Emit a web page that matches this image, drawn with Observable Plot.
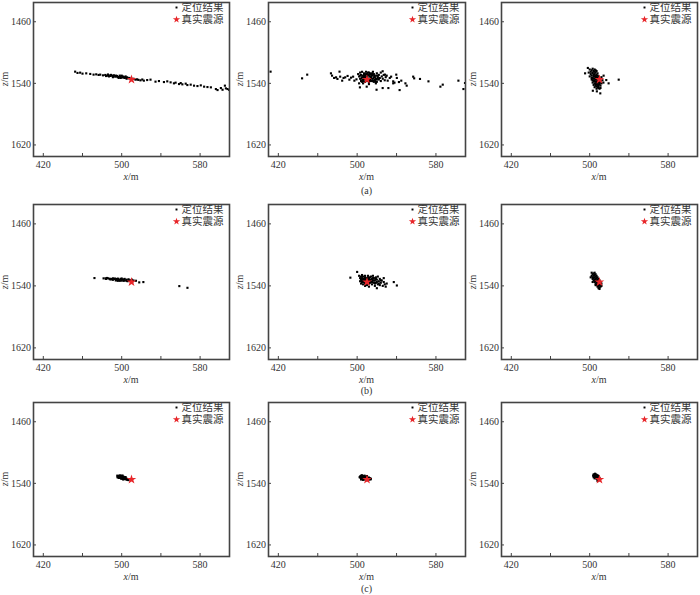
<!DOCTYPE html>
<html><head><meta charset="utf-8">
<script src="https://cdn.jsdelivr.net/npm/d3@7"></script>
<script src="https://cdn.jsdelivr.net/npm/@observablehq/plot@0.6"></script>
<style>
body{margin:0;background:#fff;}
#fig{position:relative;width:700px;height:595px;font-family:"Liberation Serif","Times New Roman","DejaVu Serif","Noto Sans CJK SC",serif;color:#333;overflow:hidden;}
#fig svg, #fig svg text{font-family:"Liberation Serif","Times New Roman","DejaVu Serif","Noto Sans CJK SC",serif !important;}
.panel{position:absolute;}
.lab{position:absolute;font-size:10px;line-height:10px;white-space:nowrap;transform:translate(-50%,-50%);}
.zlab{transform:translate(-50%,-50%) rotate(-90deg);}
</style></head><body><div id="fig"></div>
<script>
// ---- data ----
const xTicks = [420, 500, 580];
const xMinor = [420, 460, 500, 540, 580];
const zTicks = [1460, 1540, 1620];
const xDomain = [410, 610];
const zDomain = [1435, 1635];
const legendLabels = ["定位结果", "真实震源"];
const captions = ["(a)", "(b)", "(c)"];
const trueX = [510];
const trueZ = [1535];

const a1X = [452.5,454.9,457.6,460,463.8,467.9,471.3,474,476.4,478.1,480.9,483.2,485,486.7,488.4,490.1,491.8,493.5,495.2,496.9,498.6,500.3,502.1,503.8,505.5,507.2,510.6,514,515.7,519.1,522.6,526,529.4,534.5,538,543.1,546.5,549.9,553.3,555,558.5,560.2,561.9,565.3,567,570.4,573.8,577.3,580.7,584.1,587.5,591,596.1,597.8,601.2,602.9,605.3,606.3,608,609.7,487,489,491,494,496,498,499,501,503,504,506,492,495,497,500,502,505,508,484,486,512,517,521];
const a1Z = [1524.8,1526.5,1526.1,1527.4,1527,1527.8,1528.7,1528.3,1529.1,1528.7,1529.6,1529.1,1530,1529.6,1530.4,1530,1530.9,1531.3,1530.4,1531.7,1531.3,1532.2,1531.7,1532.6,1532.2,1533.5,1534.3,1535.2,1534.8,1536.1,1536.5,1535.7,1535.2,1537.8,1537,1538.3,1537.4,1538.7,1540,1539.1,1540.9,1539.6,1541.3,1540.4,1542.2,1541.7,1543,1543.5,1542.6,1544.3,1544.8,1545.2,1547.4,1548.7,1546.1,1548.3,1543,1546.5,1547.4,1548.7,1531,1529,1532,1530,1532,1530,1533,1531,1533,1531,1533,1529.5,1531,1533,1530,1532.5,1534,1533,1530.5,1528.5,1534,1535.5,1535];

const a2X = [412.1,444.1,449.3,473.4,474.5,476.6,478.6,480,482.1,482.8,484.8,486.2,487.9,490.3,492.1,493.8,495.9,497.2,499.3,525.9,528.3,531,533.1,534.5,536.6,537.9,539.7,540.3,542.4,543.1,544.8,549,550.3,556.9,557.9,563.8,572.4,584.5,586.9,602.8,607.9,609.5,502.8,509.7,519.7,525.9,531.7,536.6,
 501,502,503,503,504,504,505,505,506,506,507,507,508,508,509,509,510,510,511,511,512,512,513,513,514,514,515,515,516,516,517,517,518,518,519,520,520,521,522,522,523,524,524,525,526,527,528,529,530,502,506,512,519,
 504,505,507,508,509,510,511,512,513,514,515,516,517,518,519,520,521,503,506,509,511,513,507,510,515,516,518,520,512];
const a2Z = [1524.8,1533.5,1528.7,1527,1530,1533,1532.2,1534.3,1524.8,1531.3,1536.5,1533,1532.2,1530.4,1535.2,1532.6,1531.3,1536.5,1534.8,1524.3,1528.7,1536.5,1533,1531.3,1537.4,1539.1,1528.7,1533,1538.3,1548.7,1536.5,1540,1543,1531.3,1533.5,1534.3,1537.4,1544.3,1541.7,1536.5,1547.4,1539.6,1545.2,1544.3,1548.3,1546.1,1546.1,1540,
 1528,1531,1534,1526,1529,1537,1532,1525,1535,1530,1527,1533,1538,1530,1525,1532,1528,1536,1530,1534,1526,1539,1531,1535,1528,1533,1537,1530,1525,1534,1532,1528,1536,1530,1534,1527,1538,1531,1535,1529,1533,1537,1526,1531,1534,1529,1536,1532,1530,1540,1540,1541,1540,
 1534,1538,1529,1535,1528,1533,1537,1529,1537,1531,1534,1529,1538,1532,1538,1530,1533,1530,1537,1537,1526,1527,1531,1531,1527,1537,1535,1535,1534];

const a3X = [495.3,498.1,519.3,516.9,510.8,529.6,503.2,507.3,514.2,
 500,501,502,503,501,502,503,504,505,502,503,504,505,506,507,503,504,505,506,507,508,509,504,505,506,507,508,509,510,505,506,507,508,509,510,511,512,507,508,509,510,511,506,508,500,499,512,513,514,511,
 503,504,505,506,507,508,509,510,504,505,506,507,508,509,510,503,502,506,507,505];
const a3Z = [1527,1520,1540,1535.7,1553,1535.2,1549.6,1550.4,1530,
 1522,1525,1523,1521,1528,1530,1527,1524,1522,1533,1536,1531,1528,1526,1524,1539,1534,1537,1532,1529,1527,1531,1542,1540,1538,1535,1533,1536,1538,1545,1543,1541,1539,1542,1534,1537,1540,1547,1545,1544,1541,1543,1530,1530,1531,1526,1532,1536,1539,1546,
 1533,1529,1534,1535,1538,1536,1539,1540,1537,1525,1523,1544,1542,1546,1547,1526,1535,1541,1532,1531];

const b1X = [472.2,481.5,483.6,486,487.7,489.4,491.1,492.9,494.6,496.3,498,499.7,501.4,503.2,504.9,506.6,508.3,510.4,514.5,517.9,522.1,558.8,567.1,484,488,490,493,495,497,499,500,502,503,505,507,509,511,500,498,494,506,512,485,491,496];
const b1Z = [1529.9,1530.3,1530.3,1530.3,1530.7,1531.6,1530.3,1531.2,1532,1530.7,1532,1532.9,1531.6,1532.9,1532,1532.9,1532.9,1532,1533.4,1535.5,1535.1,1540.3,1542.5,1531,1531.5,1531,1530.5,1531,1532.5,1531,1533,1533.5,1531,1533.5,1531.5,1533.5,1534,1530.5,1533.5,1533,1534,1533,1529.8,1532.2,1533.5];

const b2X = [493.1,500,537.2,540.3,
 502,503,503,504,504,504,505,505,505,506,506,506,507,507,508,508,508,509,509,510,510,511,511,512,512,513,513,514,514,515,515,516,516,517,517,518,518,519,519,520,521,521,522,523,523,524,525,526,527,528,529,530,520,512,508,527,
 506,507,509,510,511,512,513,514,515,516,517,518,519,520,522,524,505,508];
const b2Z = [1529.4,1522,1535.1,1539.5,
 1527,1530,1534,1528,1532,1537,1526,1530,1535,1528,1533,1538,1531,1535,1527,1529,1537,1532,1534,1530,1539,1527,1535,1531,1537,1529,1533,1535,1528,1531,1538,1533,1527,1536,1530,1533,1540,1529,1536,1532,1538,1528,1534,1531,1539,1536,1533,1540,1535,1538,1541,1537,1543,1541,1540,1530,
 1531,1533,1536,1532,1529,1533,1536,1532,1535,1530,1533,1537,1531,1535,1537,1533,1533,1531];

const b3X = [502,503,504,505,502,503,504,505,506,503,504,505,506,507,504,505,506,507,508,505,506,507,508,509,506,507,508,509,510,507,508,509,510,511,508,509,510,511,509,510,511,510,512,501,512,503,506];
const b3Z = [1523,1525,1524,1523,1527,1529,1527,1526,1525,1531,1530,1529,1528,1527,1533,1532,1531,1530,1529,1535,1534,1533,1532,1531,1537,1536,1535,1534,1533,1539,1538,1537,1536,1535,1541,1540,1539,1538,1543,1542,1541,1544,1540,1529,1537,1535,1539];

const c1X = [495.5,496,496.5,497,497.5,498,498,498.5,499,499,499.5,500,500,500.5,501,501,501.5,502,502,502.5,503,503,503.5,504,504.5,505,505.5,506,506.5,507,504,497,499.5,495.8,501.5,500.8,498.5];
const c1Z = [1530,1531.5,1530.5,1532,1530,1531,1533,1531.8,1530.2,1532.5,1531,1533.5,1530.5,1532,1531,1534,1532.8,1531.5,1533.8,1532.5,1534.5,1533,1531.8,1533.8,1534.8,1534,1535,1535.5,1534.5,1535.8,1532,1533,1534,1532.2,1535,1529.8,1529.8];

const c2X = [503,503.5,504,504,504.5,505,505,505.5,506,506,506.5,507,507,507.5,508,508,508.5,509,509,509.5,510,510.5,511,511.5,512,512.5,513,513.5,514,506,504,510,502.5];
const c2Z = [1531,1533,1530,1532.5,1534,1531,1529.5,1533,1530.5,1532,1534.5,1531,1533.5,1530,1532,1535,1533,1531,1534,1536,1532,1534.5,1533,1535.5,1532.5,1534,1533.5,1535,1534,1535.5,1535,1530.5,1532];

const c3X = [504,504.5,505,505,505.5,506,506,506,506.5,507,507,507,507.5,508,508,508,508.5,509,509,509.5,504,505,510,510,505.5,508,503.5];
const c3Z = [1528.5,1530,1528,1531.5,1529.5,1528.2,1531,1533,1530,1529,1532,1534,1531,1529.5,1533,1535,1532,1530.5,1534,1536,1532,1533.5,1533,1535,1527.5,1537,1530];

const panelsX = [[a1X,a2X,a3X],[b1X,b2X,b3X],[c1X,c2X,c3X]];
const panelsZ = [[a1Z,a2Z,a3Z],[b1Z,b2Z,b3Z],[c1Z,c2Z,c3Z]];

// ---- layout ----
const colLeft = [33, 268, 501], colW = [196, 197, 196];
const rowTop = [2, 204, 402], rowH = [154, 155, 154];
const capY = [191, 391, 589];
const fig = document.getElementById("fig");
const FONT = '"Liberation Serif","Times New Roman","DejaVu Serif","Noto Sans CJK SC",serif';

function addLabel(html, x, y, cls) {
  const d = document.createElement("div");
  d.className = "lab" + (cls ? " " + cls : "");
  d.innerHTML = html;
  d.style.left = x + "px"; d.style.top = y + "px";
  fig.appendChild(d);
}

for (let r = 0; r < 3; r++) {
  for (let c = 0; c < 3; c++) {
    const xs = panelsX[r][c], zs = panelsZ[r][c];
    const pts = xs.map((x, i) => ({x, z: zs[i]}));
    const src = trueX.map((x, i) => ({x, z: trueZ[i]}));
    const fl = colLeft[c], ft = rowTop[r], fw = colW[c], fh = rowH[r];
    const svg = Plot.plot({
      width: fw + 36, height: fh + 20,
      marginLeft: 33, marginRight: 3, marginTop: 2, marginBottom: 18,
      x: {domain: xDomain, axis: null, label: null},
      y: {domain: zDomain, reverse: true, axis: null, label: null},
      style: {fontFamily: FONT, fontSize: "10px", color: "#333", background: "transparent", overflow: "visible"},
      marks: [
        Plot.axisX({ticks: xMinor, tickSize: -3, text: null, label: null, stroke: "#444"}),
        Plot.axisX({ticks: xTicks, tickSize: 0, tickPadding: 4, tickFormat: d => String(d), label: null, fontSize: 10}),
        Plot.axisY({ticks: zTicks, tickSize: -3, text: null, label: null, stroke: "#444"}),
        Plot.axisY({ticks: zTicks, tickSize: 0, tickPadding: 2.5, tickFormat: d => String(d), label: null, fontSize: 10}),
        Plot.dot(pts, {x: "x", y: "z", symbol: "square", r: 1.2, fill: "#000", stroke: "none", clip: true}),
        Plot.dot(src, {x: "x", y: "z", symbol: "star", r: 3, fill: "#e8262a", stroke: "none"}),
        Plot.dot([legendLabels[0]], {frameAnchor: "top-right", dx: -53, dy: 5, symbol: "square", r: 1.1, fill: "#000", stroke: "none"}),
        Plot.dot([legendLabels[1]], {frameAnchor: "top-right", dx: -53, dy: 17, symbol: "star", r: 2.3, fill: "#e8262a", stroke: "none"}),
        Plot.text([legendLabels[0]], {text: d => d, frameAnchor: "top-right", dx: -6, dy: 5, textAnchor: "end", lineAnchor: "middle", fontSize: 10.5, fill: "#333"}),
        Plot.text([legendLabels[1]], {text: d => d, frameAnchor: "top-right", dx: -6, dy: 17, textAnchor: "end", lineAnchor: "middle", fontSize: 10.5, fill: "#333"}),
        Plot.frame({stroke: "#444", strokeWidth: 1.6})
      ]
    });
    svg.classList.add("panel");
    svg.style.left = (fl - 33) + "px";
    svg.style.top = (ft - 2) + "px";
    fig.appendChild(svg);
    addLabel("<i>x</i>/m", fl + fw / 2, ft + fh + 21);
    addLabel("<i>z</i>/m", fl - 28, ft + fh / 2, "zlab");
  }
  addLabel(captions[r], (colLeft[1] + colLeft[1] + colW[1]) / 2, capY[r]);
}
</script>
</body></html>
